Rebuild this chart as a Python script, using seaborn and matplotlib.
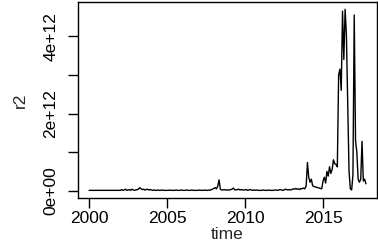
import numpy as np
import pandas as pd
import seaborn as sns
import matplotlib
matplotlib.use("Agg")
import matplotlib.pyplot as plt

# monthly values of r2 in units of 1e12, Jan 2000 .. Oct 2017
y2000 = [0.01, 0.01, 0.01, 0.01, 0.01, 0.01, 0.01, 0.01, 0.01, 0.01, 0.01, 0.01]
y2001 = [0.01, 0.01, 0.01, 0.01, 0.01, 0.01, 0.01, 0.01, 0.01, 0.01, 0.01, 0.01]
y2002 = [0.01, 0.03, 0.01, 0.02, 0.04, 0.01, 0.02, 0.03, 0.01, 0.04, 0.02, 0.01]
y2003 = [0.02, 0.03, 0.04, 0.08, 0.05, 0.03, 0.04, 0.02, 0.03, 0.04, 0.02, 0.03]
y2004 = [0.02, 0.01, 0.02, 0.01, 0.01, 0.02, 0.01, 0.01, 0.02, 0.01, 0.01, 0.01]
y2005 = [0.01, 0.01, 0.02, 0.01, 0.01, 0.01, 0.01, 0.02, 0.01, 0.01, 0.01, 0.02]
y2006 = [0.01, 0.01, 0.01, 0.02, 0.01, 0.01, 0.01, 0.02, 0.01, 0.01, 0.01, 0.01]
y2007 = [0.01, 0.02, 0.01, 0.01, 0.01, 0.02, 0.01, 0.01, 0.02, 0.01, 0.03, 0.04]
y2008 = [0.06, 0.08, 0.05, 0.12, 0.28, 0.04, 0.02, 0.02, 0.03, 0.02, 0.02, 0.02]
y2009 = [0.02, 0.03, 0.04, 0.07, 0.03, 0.02, 0.03, 0.04, 0.02, 0.03, 0.02, 0.02]
y2010 = [0.02, 0.03, 0.01, 0.02, 0.03, 0.02, 0.01, 0.02, 0.01, 0.02, 0.01, 0.01]
y2011 = [0.01, 0.01, 0.02, 0.01, 0.01, 0.01, 0.02, 0.01, 0.01, 0.01, 0.01, 0.02]
y2012 = [0.02, 0.01, 0.02, 0.03, 0.02, 0.01, 0.02, 0.04, 0.03, 0.02, 0.03, 0.02]
y2013 = [0.03, 0.05, 0.04, 0.06, 0.04, 0.05, 0.03, 0.06, 0.05, 0.07, 0.05, 0.12]
y2014 = [0.73, 0.35, 0.22, 0.30, 0.13, 0.11, 0.10, 0.09, 0.08, 0.07, 0.06, 0.05]
y2015 = [0.25, 0.35, 0.20, 0.50, 0.38, 0.62, 0.45, 0.55, 0.80, 0.70, 0.68, 0.62]
y2016 = [3.00, 3.15, 2.60, 4.65, 3.40, 4.70, 4.00, 2.30, 0.50, 0.05, 0.02, 0.40]
y2017 = [4.55, 1.30, 1.00, 0.30, 0.22, 0.30, 1.28, 0.25, 0.30, 0.18]

values = np.array(y2000 + y2001 + y2002 + y2003 + y2004 + y2005 + y2006 + y2007 +
                  y2008 + y2009 + y2010 + y2011 + y2012 + y2013 + y2014 + y2015 +
                  y2016 + y2017) * 1e12
time = 2000 + np.arange(len(values)) / 12.0

x_ticks = [2000, 2005, 2010, 2015]
y_ticks = [0, 1e12, 2e12, 3e12, 4e12]
y_ticklabels = ["0e+00", "", "2e+12", "", "4e+12"]

df = pd.DataFrame({"time": time, "r2": values})

sns.set_theme(style="ticks")
plt.rcParams["font.family"] = ["Liberation Sans", "DejaVu Sans"]

fs = 12.5
fig = plt.figure(figsize=(3.78, 2.41), dpi=100)
ax = fig.add_axes([78 / 378, 43 / 241, 299 / 378, 196 / 241])
sns.lineplot(data=df, x="time", y="r2", ax=ax, color="black", linewidth=1.0)

ax.set_xlim(1999.29, 2018.46)
ax.set_ylim(-0.188e12, 4.888e12)
ax.set_xticks(x_ticks)
ax.set_xticklabels([str(t) for t in x_ticks], fontsize=fs)
ax.set_yticks(y_ticks)
ax.set_yticklabels(y_ticklabels, fontsize=fs, rotation=90, va="center")
ax.tick_params(axis="both", direction="out", length=7, width=1, color="black",
               labelcolor="black")
ax.tick_params(axis="x", pad=2.5)
ax.tick_params(axis="y", pad=7)
for s in ax.spines.values():
    s.set_visible(True)
    s.set_color("black")
    s.set_linewidth(1)
ax.set_xlabel("time", fontsize=fs, labelpad=0.5)
ax.set_ylabel("r2", fontsize=fs, labelpad=11)
ax.grid(False)

fig.savefig("out.png", dpi=100)
